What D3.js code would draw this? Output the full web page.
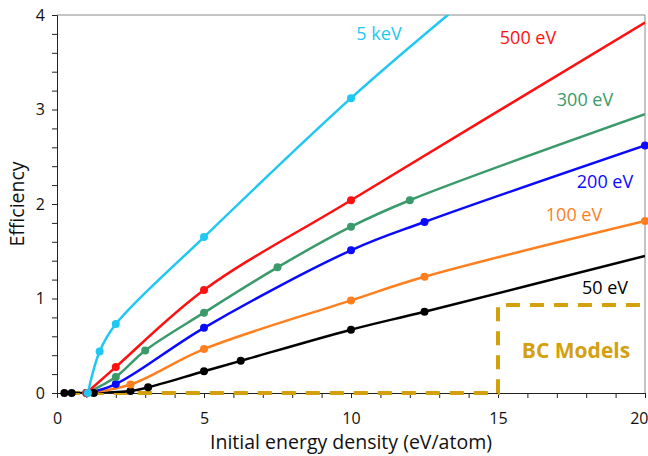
<!DOCTYPE html>
<html lang="en">
<head>
<meta charset="utf-8">
<title>Efficiency vs initial energy density</title>
<script src="https://cdnjs.cloudflare.com/ajax/libs/d3/7.8.5/d3.min.js"></script>
<style>
  body { margin: 0; background: #fff; }
  svg text { font-family: "Open Sans", "DejaVu Sans", sans-serif; }
</style>
</head>
<body>
<div id="chart"></div>
<script>
    // data: marker points for each curve
    var x50 = [0.25, 0.5, 1.25, 2.5, 3.1, 5, 6.25, 10, 12.5];
    var y50 = [0, 0, 0, 0.02, 0.06, 0.23, 0.34, 0.67, 0.86];
    var x100 = [1.0, 2.5, 5, 10, 12.5, 20];
    var y100 = [0, 0.09, 0.465, 0.98, 1.23, 1.82];
    var x200 = [1.0, 2, 5, 10, 12.5, 20];
    var y200 = [0, 0.095, 0.69, 1.51, 1.81, 2.62];
    var x300 = [1.0, 2, 3, 5, 7.5, 10, 12];
    var y300 = [0, 0.17, 0.45, 0.85, 1.33, 1.76, 2.04];
    var x500 = [1.0, 2, 5, 10];
    var y500 = [0, 0.275, 1.09, 2.04];
    var x5k = [1.05, 1.45, 2, 5, 10];
    var y5k = [0, 0.44, 0.73, 1.65, 3.12];

    // line continues past the last marker (no marker there)
    var tail50 = [20, 1.45];
    var tail300 = [20, 2.95];
    var tail500 = [20, 3.92];
    var tail5k = [13.6, 4.08];

    var seriesNames = ["50 eV", "100 eV", "200 eV", "300 eV", "500 eV", "5 keV"];
    var seriesColors = ["#000000", "#ff7f1f", "#0a0aff", "#3a9a6a", "#ff1010", "#1ec8f2"];

    // BC Models region outline
    var bcX = [0.3, 15, 15, 20];
    var bcY = [0, 0, 0.93, 0.93];

    var xTicks = d3.range(0, 21, 1);
    var yTicks = d3.range(0, 4.01, 0.2);

    var margin = {top: 15, right: 3, bottom: 63, left: 57},
        width = 648 - margin.left - margin.right,
        height = 456 - margin.top - margin.bottom;

    var svg = d3.select("#chart").append("svg")
        .attr("width", 648)
        .attr("height", 456);

    var g = svg.append("g")
        .attr("transform", "translate(" + margin.left + "," + margin.top + ")");

    var xScale = d3.scaleLinear().domain([0, 20]).range([0, width]);
    var yScale = d3.scaleLinear().domain([0, 4]).range([height, 0]);

    g.append("clipPath").attr("id", "plotclip")
        .append("rect").attr("x", 0).attr("y", 0).attr("width", width).attr("height", height);

    // frame (top and right)
    g.append("line").attr("x1", 0).attr("x2", width).attr("y1", 0).attr("y2", 0)
        .attr("stroke", "#8a8a8a").attr("stroke-width", 1);
    g.append("line").attr("x1", width).attr("x2", width).attr("y1", 0).attr("y2", height)
        .attr("stroke", "#8a8a8a").attr("stroke-width", 1);

    var xAxis = d3.axisBottom(xScale).tickValues(xTicks).tickSize(5).tickPadding(15)
        .tickFormat(function (d) { return d % 5 === 0 ? d : ""; });
    var yAxis = d3.axisLeft(yScale).tickValues(yTicks).tickSize(5).tickPadding(7)
        .tickFormat(function (d) { return Math.abs(d - Math.round(d)) < 1e-6 ? Math.round(d) : ""; });

    var gx = g.append("g").attr("transform", "translate(0," + height + ")").call(xAxis);
    var gy = g.append("g").call(yAxis);
    [gx, gy].forEach(function (a) {
        a.select(".domain").attr("stroke", "#222");
        a.selectAll(".tick line").attr("stroke", "#222");
        a.selectAll("text").attr("font-size", 16).attr("fill", "#111")
            .style("font-family", "'Open Sans', sans-serif");
    });
    // last x label sits against the right edge
    gx.selectAll(".tick text").filter(function (d) { return d === 20; })
        .attr("text-anchor", "end").attr("dx", 3);

    // BC Models dashed box
    var bcPts = bcX.map(function (x, i) { return [x, bcY[i]]; });
    g.append("path")
        .attr("d", d3.line().x(function (d) { return xScale(d[0]); }).y(function (d) { return yScale(d[1]); })(bcPts))
        .attr("fill", "none")
        .attr("stroke", "#d3a00e")
        .attr("stroke-width", 4)
        .attr("stroke-dasharray", "14,10");

    g.append("text")
        .attr("x", 576 - margin.left).attr("y", 351 - margin.top).attr("dy", "0.35em")
        .attr("text-anchor", "middle")
        .attr("font-size", 21).attr("font-weight", "bold").attr("fill", "#d3a00e")
        .text("BC Models");

    var allX = [x50, x100, x200, x300, x500, x5k];
    var allY = [y50, y100, y200, y300, y500, y5k];
    var tails = [tail50, null, null, tail300, tail500, tail5k];

    var line = d3.line()
        .x(function (d) { return xScale(d[0]); })
        .y(function (d) { return yScale(d[1]); })
        .curve(d3.curveCatmullRom.alpha(0.5));

    var plot = g.append("g").attr("clip-path", "url(#plotclip)");

    seriesNames.forEach(function (name, i) {
        var pts = allX[i].map(function (x, j) { return [x, allY[i][j]]; });
        var linePts = tails[i] ? pts.concat([tails[i]]) : pts;
        plot.append("path")
            .attr("d", line(linePts))
            .attr("fill", "none")
            .attr("stroke", seriesColors[i])
            .attr("stroke-width", 2.5);
        g.selectAll(".dot" + i)
            .data(pts)
            .enter().append("circle")
            .attr("cx", function (d) { return xScale(d[0]); })
            .attr("cy", function (d) { return yScale(d[1]); })
            .attr("r", 4)
            .attr("fill", seriesColors[i]);
    });

    // curve labels
    var labelPos = [[605, 288], [574, 215], [605, 182], [585, 100], [528, 38], [379, 34]];
    seriesNames.forEach(function (name, i) {
        svg.append("text")
            .attr("x", labelPos[i][0]).attr("y", labelPos[i][1]).attr("dy", "0.35em")
            .attr("text-anchor", "middle")
            .attr("font-size", 18)
            .attr("fill", seriesColors[i])
            .text(name);
    });

    // axis titles
    svg.append("text")
        .attr("x", 351).attr("y", 449)
        .attr("text-anchor", "middle")
        .attr("font-size", 19.5).attr("fill", "#111")
        .text("Initial energy density (eV/atom)");

    svg.append("text")
        .attr("transform", "translate(24,204) rotate(-90)")
        .attr("text-anchor", "middle")
        .attr("font-size", 19.5).attr("fill", "#111")
        .text("Efficiency");
</script>
</body>
</html>
